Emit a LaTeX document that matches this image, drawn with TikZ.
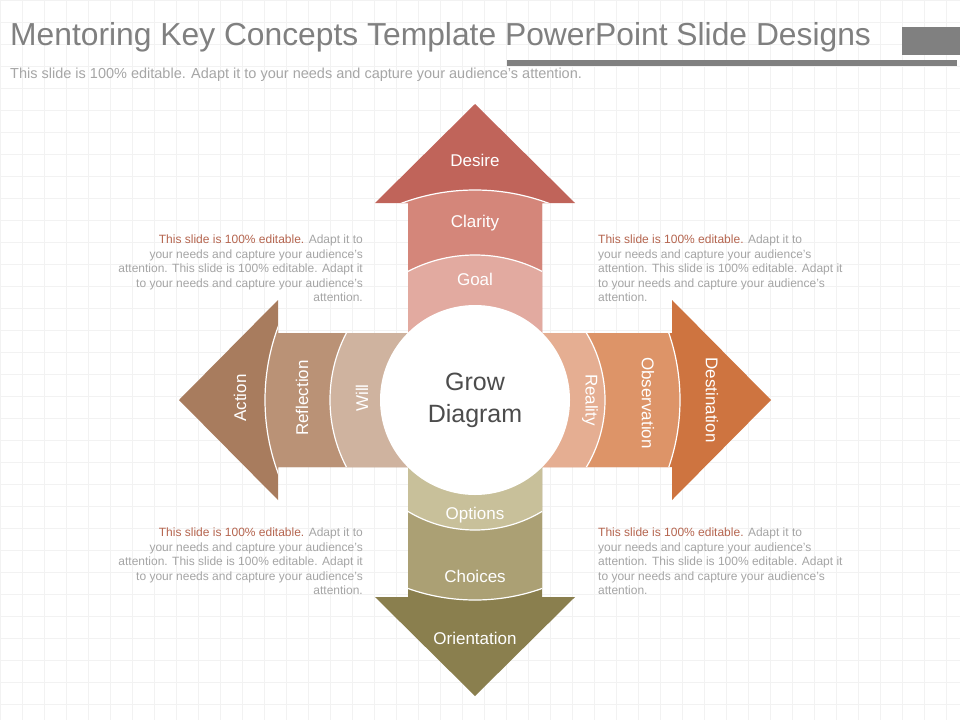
\documentclass[tikz,border=0pt]{standalone}
\usepackage{fontspec}
\setmainfont{Liberation Sans}
\usetikzlibrary{positioning}
\definecolor{titlegray}{HTML}{808080}
\definecolor{notegray}{HTML}{A5A5A5}
\definecolor{notered}{HTML}{B5654F}
\newcommand{\growarrow}[6]{%
  \begin{scope}[rotate=#1]
    \clip (0,-67) -- (197,-67) -- (197,-100) -- (296,0) -- (197,100) -- (197,67) -- (0,67) -- cycle;
    \fill[#4] (0,-110) rectangle (300,110);
    \fill[#5] (0,0) circle (#3);
    \fill[#6] (0,0) circle (#2);
    \draw[white,line width=1.2pt] (0,0) circle (#3) (0,0) circle (#2);
  \end{scope}}
\newcommand{\notetext}{{\color{notered}This slide is 100\% editable.} Adapt it to\\your needs and capture your audience's\\attention. This slide is 100\% editable. Adapt it\\to your needs and capture your audience's\\attention.}
\begin{document}
\begin{tikzpicture}[x=1pt,y=-1pt]
    %
    % `band' is used for the words inside the arrows.
    % `note' is used for the four small paragraphs.
    \tikzstyle{band} = [text=white,font=\fontsize{17}{20}\selectfont]
    \tikzstyle{note} = [text=notegray,font=\fontsize{12}{14.4}\selectfont,inner sep=0pt]
    %
    % Background
    \useasboundingbox (0,0) rectangle (960,720);
    \fill[white] (0,0) rectangle (960,720);
    \foreach \g in {0,22,...,960} \draw[black!5] (\g,0) -- (\g,720);
    \foreach \g in {0,22,...,720} \draw[black!5] (0,\g) -- (960,\g);
    %
    % Title
    \node[anchor=west,text=titlegray,font=\fontsize{31.8}{36}\selectfont,inner sep=0pt] (title) at (10,37) {Mentoring Key Concepts Template PowerPoint Slide Designs};
    \node[anchor=west,text=black!35,font=\fontsize{14.5}{16}\selectfont,inner sep=0pt] (sub) at (10,75) {This slide is 100\% editable. Adapt it to your needs and capture your audience's attention.};
    \fill[titlegray] (902,27) rectangle (960,55);
    \fill[titlegray] (507,60) rectangle (957,66);
    %
    % Arrows
    \begin{scope}[shift={(475,400)}]
    \growarrow{90}{145}{210}{fill={rgb,255:red,192;green,100;blue,90}}{fill={rgb,255:red,212;green,134;blue,122}}{fill={rgb,255:red,226;green,170;blue,160}}
    \growarrow{180}{145}{210}{fill={rgb,255:red,168;green,124;blue,94}}{fill={rgb,255:red,186;green,146;blue,118}}{fill={rgb,255:red,207;green,179;blue,159}}
    \growarrow{0}{130}{205}{fill={rgb,255:red,206;green,116;blue,64}}{fill={rgb,255:red,221;green,148;blue,104}}{fill={rgb,255:red,229;green,174;blue,146}}
    \growarrow{-90}{130}{200}{fill={rgb,255:red,138;green,127;blue,78}}{fill={rgb,255:red,171;green,160;blue,116}}{fill={rgb,255:red,200;green,192;blue,154}}
    \fill[white] (0,0) circle (95);
    \end{scope}
    %
    % Centre
    \node[align=center,text=black!70,font=\fontsize{25}{32}\selectfont] (grow) at (475,400) {Grow\\Diagram};
    %
    % Top
    \node[band] (desire) at (475,160) {Desire};
    \node[band] (clarity) at (475,223) {Clarity};
    \node[band] (goal) at (475,279) {Goal};
    %
    % Left
    \node[band,rotate=90] (action) at (240,398) {Action};
    \node[band,rotate=90] (reflection) at (302,398) {Reflection};
    \node[band,rotate=90] (will) at (362,398) {Will};
    %
    % Right
    \node[band,rotate=-90] (reality) at (590,400) {Reality};
    \node[band,rotate=-90] (observation) at (648,403) {Observation};
    \node[band,rotate=-90] (destination) at (712,400) {Destination};
    %
    % Bottom
    \node[band] (options) at (475,515) {Options};
    \node[band] (choices) at (475,576) {Choices};
    \node[band] (orientation) at (475,638) {Orientation};
    %
    % Notes
    \node[note,anchor=north east,align=right] (note1) at (363,235) {\notetext};
    \node[note,anchor=north west,align=left] (note2) at (598,235) {\notetext};
    \node[note,anchor=north east,align=right] (note3) at (363,528) {\notetext};
    \node[note,anchor=north west,align=left] (note4) at (598,528) {\notetext};
    \end{tikzpicture}
\end{document}
